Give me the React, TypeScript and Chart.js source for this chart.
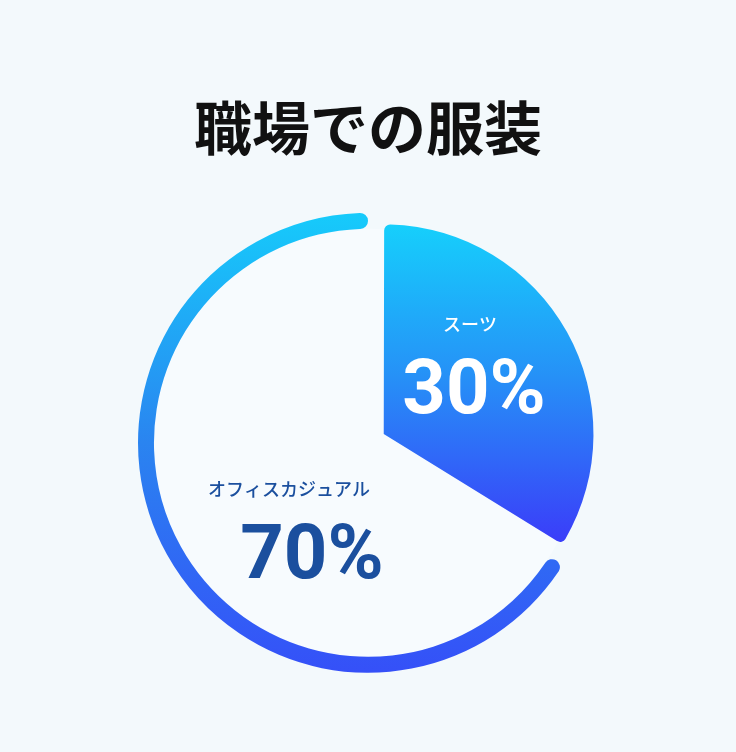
import { useEffect, useRef } from 'react';
import { Chart, registerables } from 'chart.js';
import type { ScriptableContext, Plugin } from 'chart.js';

Chart.register(...registerables);

const chartTitle = '職場での服装';
const categories = ['スーツ', 'オフィスカジュアル'];
const shares = [30, 70];

const RING_RADIUS = 230;
const SLICE_RADIUS = 222.5;

// vertical gradients, measured from the chart centre
const ringGradient = (c: ScriptableContext<'doughnut'>) => {
  const { ctx, chartArea } = c.chart;
  if (!chartArea) return '#2a85f0';
  const cy = (chartArea.top + chartArea.bottom) / 2;
  const g = ctx.createLinearGradient(0, cy - RING_RADIUS, 0, cy + RING_RADIUS);
  g.addColorStop(0, '#16cbfb');
  g.addColorStop(0.5, '#2a84f0');
  g.addColorStop(1, '#3550f8');
  return g;
};

const sliceGradient = (c: ScriptableContext<'doughnut'>) => {
  const { ctx, chartArea } = c.chart;
  if (!chartArea) return '#2a85f0';
  const cy = (chartArea.top + chartArea.bottom) / 2;
  const g = ctx.createLinearGradient(0, cy - 216, 0, cy + 104);
  g.addColorStop(0, '#15d2fc');
  g.addColorStop(0.5, '#2690f7');
  g.addColorStop(1, '#3a3ff9');
  return g;
};

// where each label block sits, relative to the slice it names
const labelPlacement = [
  { r: 0.65, turn: -10.3, nameDx: -2, valueDx: 2, color: '#ffffff' },
  { r: 0.503, turn: -43.8, nameDx: -12, valueDx: 11, color: '#1b4f9e' },
];

const innerGlow: Plugin<'doughnut'> = {
  id: 'innerGlow',
  beforeDatasetsDraw(chart) {
    const { ctx, chartArea } = chart;
    const cx = (chartArea.left + chartArea.right) / 2;
    const cy = (chartArea.top + chartArea.bottom) / 2;
    ctx.save();
    ctx.beginPath();
    ctx.arc(cx, cy, RING_RADIUS - 16, 0, Math.PI * 2);
    ctx.fillStyle = '#f7fbfe';
    ctx.fill();
    ctx.restore();
  },
};

const sliceLabels: Plugin<'doughnut'> = {
  id: 'sliceLabels',
  afterDatasetsDraw(chart) {
    const { ctx, chartArea } = chart;
    const cx = (chartArea.left + chartArea.right) / 2;
    const cy = (chartArea.top + chartArea.bottom) / 2;
    const meta = chart.getDatasetMeta(1);
    meta.data.forEach((el, i) => {
      const arc = el as any;
      const p = labelPlacement[i];
      const mid = (arc.startAngle + arc.endAngle) / 2 + (p.turn * Math.PI) / 180;
      const dist = arc.outerRadius * p.r;
      const x = cx + Math.cos(mid) * dist;
      const y = cy + Math.sin(mid) * dist;
      ctx.save();
      ctx.fillStyle = p.color;
      ctx.textAlign = 'center';
      ctx.textBaseline = 'middle';
      ctx.font = '500 18px "Noto Sans CJK JP", "Noto Sans", sans-serif';
      ctx.fillText(categories[i], x + p.nameDx, y - 33);
      ctx.font = 'bold 76px Roboto, "Noto Sans", sans-serif';
      ctx.fillText(`${shares[i]}%`, x + p.valueDx, y + 37);
      ctx.restore();
    });
  },
};

const App = () => {
  const canvasRef = useRef<HTMLCanvasElement | null>(null);
  const chartRef = useRef<Chart<'doughnut'> | null>(null);

  useEffect(() => {
    if (!canvasRef.current) return;
    if (chartRef.current) chartRef.current.destroy();

    chartRef.current = new Chart(canvasRef.current, {
      type: 'doughnut',
      data: {
        labels: categories,
        datasets: [
          {
            // outer ring: only the larger share is drawn
            data: shares,
            backgroundColor: (c) => (c.dataIndex === 1 ? ringGradient(c) : 'rgba(0,0,0,0)'),
            borderWidth: 0,
            borderRadius: 8,
            rotation: 20,
            circumference: 340,
            radius: RING_RADIUS,
            weight: 1,
            hoverOffset: 0,
          },
          {
            // inner pie: only the smaller share is drawn, pulled out
            data: shares,
            backgroundColor: (c) => (c.dataIndex === 0 ? sliceGradient(c) : 'rgba(0,0,0,0)'),
            borderWidth: 0,
            borderRadius: 6,
            offset: [72, 0],
            rotation: 0,
            circumference: 406,
            radius: SLICE_RADIUS,
            weight: 13.4,
            hoverOffset: 0,
          },
        ] as any,
      },
      options: {
        animation: false,
        responsive: true,
        maintainAspectRatio: false,
        events: [],
        cutout: 0,
        layout: { padding: { top: 93, bottom: 49, left: 0, right: 0 } },
        plugins: {
          legend: { display: false },
          tooltip: { enabled: false },
          title: {
            display: true,
            text: chartTitle,
            color: '#111111',
            font: { family: '"Noto Sans CJK JP", "Noto Sans", sans-serif', size: 58, weight: 'bold' },
            padding: { top: 0, bottom: 20 },
          },
        },
      },
      plugins: [innerGlow, sliceLabels],
    });

    return () => {
      if (chartRef.current) {
        chartRef.current.destroy();
        chartRef.current = null;
      }
    };
  }, []);

  return (
    <div
      style={{
        position: 'fixed',
        left: 0,
        top: 0,
        width: 736,
        height: 752,
        background: '#f3f9fc',
      }}
    >
      <canvas ref={canvasRef}></canvas>
    </div>
  );
};

export default App;
